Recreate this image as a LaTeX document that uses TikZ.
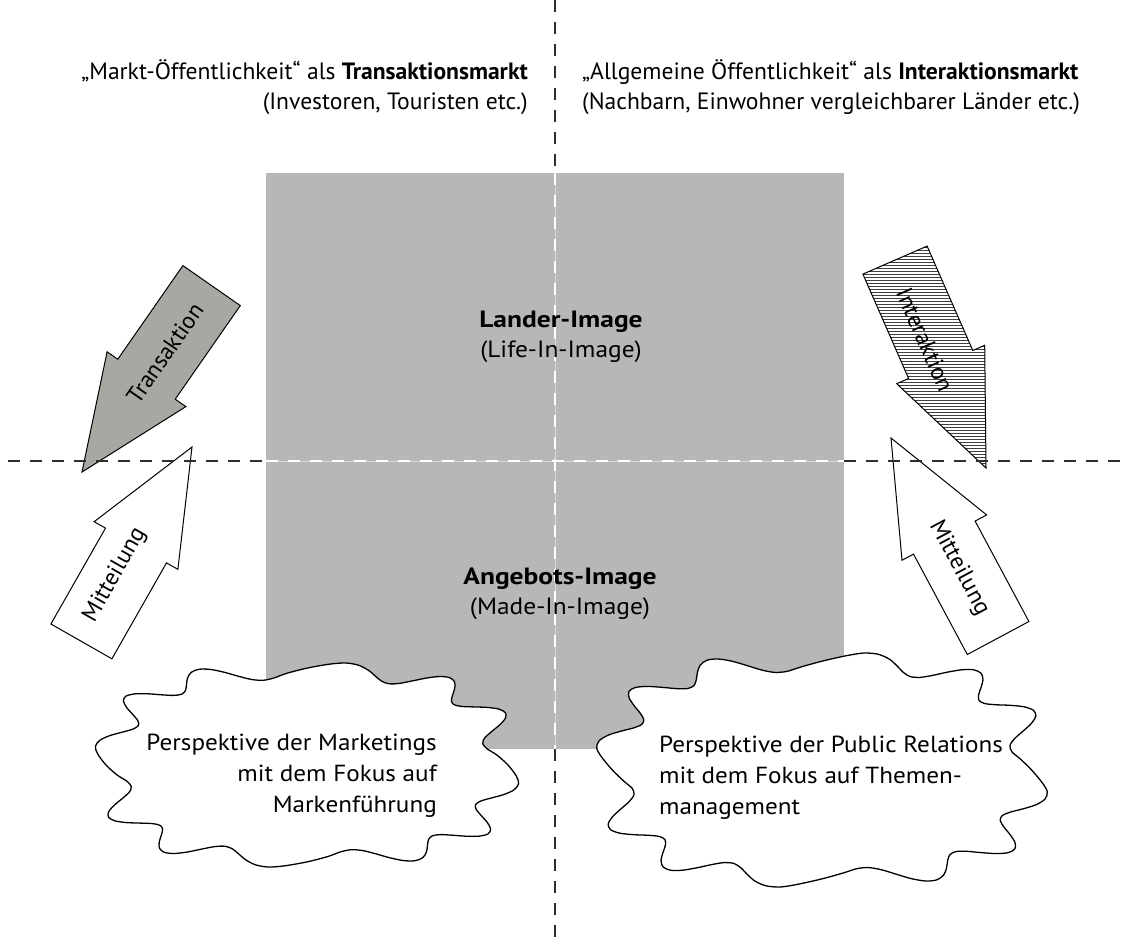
\documentclass[tikz,border=0pt]{standalone}
\usepackage{fontspec}
\setmainfont{PT Sans}
\newfontfamily\labelfont[FakeStretch=1.08, BoldFeatures={FakeStretch=1.17}]{PT Sans}
\usetikzlibrary{patterns}

\definecolor{imagegray}{RGB}{183,183,183}
\definecolor{transgray}{RGB}{168,168,163}
\definecolor{dashblack}{RGB}{45,45,45}

\tikzset{
  axisdash/.style={draw=dashblack, line width=1.6pt, dash pattern=on 12pt off 10pt},
  innerdash/.style={draw=white, line width=1.6pt, dash pattern=on 12pt off 10pt},
  flowarrow/.style={draw=black, line width=1pt, line join=miter},
  toptext/.style={font=\fontsize{23.6}{30}\selectfont, inner sep=0pt},
  bodytext/.style={font=\labelfont\fontsize{23.5}{30}\selectfont, inner sep=0pt},
  cloudtext/.style={font=\labelfont\fontsize{23.3}{31}\selectfont, inner sep=0pt},
  arrowtext/.style={font=\fontsize{23.5}{28}\selectfont, inner sep=0pt},
  cloudline/.style={draw=black, fill=white, line width=1.3pt},
}

\begin{document}
\begin{tikzpicture}[x=1pt, y=-1pt]
\useasboundingbox (0,0) rectangle (1121,947);

% image field
\fill[imagegray] (266,173) rectangle (844,749);

% arrows
\draw[flowarrow, fill=transgray]
  (82,472) -- (185.9,406.6) -- (175.2,399.2) -- (240.3,305.6)
  -- (182.9,265.6) -- (117.8,359.2) -- (107.1,351.8) -- cycle;
\draw[flowarrow, fill=white]
  (192,447) -- (177.9,569.3) -- (166.5,562.9) -- (111.9,658.8)
  -- (50.9,624.0) -- (105.5,528.1) -- (94.1,521.7) -- cycle;
\fill[white]
  (986,468) -- (984.7,345.3) -- (972.8,350.5) -- (927.1,246.1)
  -- (862.9,274.1) -- (908.6,378.5) -- (896.7,383.7) -- cycle;
\draw[flowarrow, pattern=horizontal lines, pattern color=black!75]
  (986,468) -- (984.7,345.3) -- (972.8,350.5) -- (927.1,246.1)
  -- (862.9,274.1) -- (908.6,378.5) -- (896.7,383.7) -- cycle;
\draw[flowarrow, fill=white]
  (891,438) -- (986.6,514.9) -- (975.1,521.1) -- (1028.9,621.5)
  -- (967.3,654.5) -- (913.5,554.1) -- (902.0,560.3) -- cycle;

\node[arrowtext, rotate=55.2] (transaktion) at (165,353) {Transaktion};
\node[arrowtext, rotate=60.4] (mitteilungl) at (115,575) {Mitteilung};
\node[arrowtext, rotate=-66.4] (interaktion) at (925,340) {Interaktion};
\node[arrowtext, rotate=-61.8] (mitteilungr) at (959,568) {Mitteilung};

% axes
\draw[axisdash] (8,461) -- (266,461);
\draw[axisdash] (844,461) -- (1121,461);
\draw[axisdash] (555,0) -- (555,173);
\draw[axisdash] (555,749) -- (555,947);
\draw[white!85!black, line width=0.5pt] (266,461) -- (844,461);
\draw[white!85!black, line width=0.5pt] (555,173) -- (555,749);
\draw[innerdash] (266,461) -- (844,461);
\draw[innerdash] (555,173) -- (555,749);

% headings (anchored at the baseline of their last line)
\node[toptext, anchor=base east, align=right] (markt) at (528,110)
  {„Markt-Öffentlichkeit“ als \textbf{Transaktionsmarkt}\\(Investoren, Touristen etc.)};
\node[toptext, anchor=base west, align=left] (allgemein) at (582,110)
  {„Allgemeine Öffentlichkeit“ als \textbf{Interaktionsmarkt}\\(Nachbarn, Einwohner vergleichbarer Länder etc.)};

% image labels
\node[bodytext, anchor=base, align=center] (lander) at (561,357)
  {\textbf{Lander-Image}\\(Life-In-Image)};
\node[bodytext, anchor=base, align=center] (angebot) at (560,614)
  {\textbf{Angebots-Image}\\(Made-In-Image)};

% perspective clouds
\draw[cloudline] plot[domain=0:357, samples=120, smooth cycle, variable=\t]
  ({307+195*(1+0.09*sin(12*\t+20))*cos(\t)*pow(abs(cos(\t))+0.001,-0.25)},
   {765+94*(1+0.09*sin(12*\t+20))*sin(\t)*pow(abs(sin(\t))+0.001,-0.25)});
\draw[cloudline] plot[domain=0:357, samples=120, smooth cycle, variable=\t]
  ({822+208*(1+0.09*sin(12*\t+5))*cos(\t)*pow(abs(cos(\t))+0.001,-0.25)},
   {770+108*(1+0.09*sin(12*\t+5))*sin(\t)*pow(abs(sin(\t))+0.001,-0.25)});

\node[cloudtext, anchor=base east, align=right] (marketing) at (437,812)
  {Perspektive der Marketings\\mit dem Fokus auf\\Markenführung};
\node[cloudtext, anchor=base west, align=left] (pr) at (659,814)
  {Perspektive der Public Relations\\mit dem Fokus auf Themen-\\management};
\end{tikzpicture}
\end{document}
